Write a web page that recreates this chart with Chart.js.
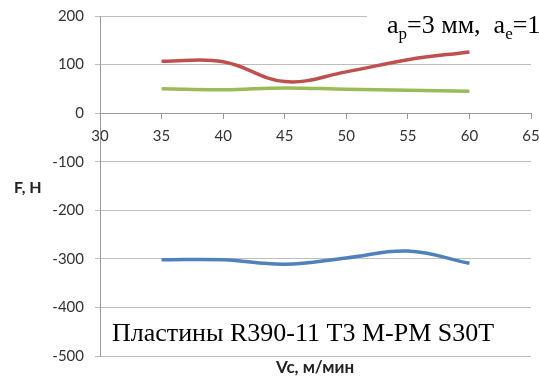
<!DOCTYPE html>
<html>
<head>
<meta charset="utf-8">
<script src="https://cdn.jsdelivr.net/npm/chart.js@4"></script>
<style>
  html, body { margin: 0; padding: 0; background: #fff; }
  #wrap { width: 539px; height: 381px; }
</style>
</head>
<body>
<div id="wrap"><canvas id="forceChart" width="539" height="381"></canvas></div>
<script>
// cutting speed, m/min
const vc = [35, 40, 45, 50, 55, 60];
// force components, N
const forceRed = [107, 106, 65, 85, 110, 126];
const forceGreen = [50, 48, 52, 49, 47, 45];
const forceBlue = [-302, -302, -311, -298, -284, -309];

const xMin = 30, xMax = 65, xStep = 5;
const yMin = -500, yMax = 200, yStep = 100;

const yTitle = 'F, H';
const xTitle = 'Vc, м/мин';
const plateNote = 'Пластины R390-11 T3 M-PM S30T';

const toPoints = vals => vals.map((v, i) => ({x: vc[i], y: v}));

const tickFont = {family: 'Lato, "Open Sans", sans-serif', size: 15};

function drawSub(c, x, y, parts) {
    // parts: [text, isSub]
    parts.forEach(([t, sub]) => {
        c.font = sub ? '17px "Liberation Serif", serif' : '26px "Liberation Serif", serif';
        c.fillText(t, x, sub ? y + 6 : y);
        x += c.measureText(t).width;
    });
}

const notes = {
    id: 'notes',
    afterDatasetsDraw(chart) {
        const c = chart.ctx;
        c.save();
        // white box behind the header text
        c.fillStyle = '#fff';
        c.fillRect(367, 2, 172, 42);
        c.fillStyle = '#000';
        c.textBaseline = 'alphabetic';
        c.textAlign = 'left';
        drawSub(c, 387, 33, [['a', false], ['p', true], ['=3 мм,  a', false], ['e', true], ['=1 мм', false]]);
        c.font = '26px "Liberation Serif", serif';
        c.fillText(plateNote, 112, 341);

        c.font = 'bold 16px Lato, "Open Sans", sans-serif';
        c.fillStyle = '#222';
        c.textBaseline = 'middle';
        c.fillText(yTitle, 14, 188);
        c.font = 'bold 17px Lato, "Open Sans", sans-serif';
        c.textAlign = 'center';
        c.fillText(xTitle, 315, 368);
        c.restore();
    }
};

new Chart(document.getElementById('forceChart').getContext('2d'), {
    type: 'line',
    data: {
        datasets: [
            {data: toPoints(forceRed), borderColor: '#C0504D'},
            {data: toPoints(forceGreen), borderColor: '#9BBB59'},
            {data: toPoints(forceBlue), borderColor: '#4F81BD'}
        ].map(d => Object.assign(d, {
            borderWidth: 3.5,
            pointRadius: 0,
            tension: 0.4,
            fill: false
        }))
    },
    options: {
        responsive: false,
        animation: false,
        layout: {padding: {left: 0, top: 16, right: 8, bottom: 25}},
        plugins: {
            legend: {display: false},
            tooltip: {enabled: false}
        },
        scales: {
            x: {
                type: 'linear',
                position: {y: 0},
                min: xMin,
                max: xMax,
                ticks: {stepSize: xStep, font: tickFont, color: '#333', padding: 9, maxRotation: 0},
                grid: {drawOnChartArea: false, drawTicks: true, tickLength: 5, color: '#999'},
                border: {display: true, color: '#999', width: 1},
                afterFit(scale) { scale.paddingLeft = 0; scale.paddingRight = 0; }
            },
            y: {
                min: yMin,
                max: yMax,
                ticks: {stepSize: yStep, font: tickFont, color: '#333', padding: 11},
                grid: {color: '#bdbdbd', tickLength: 5},
                border: {display: true, color: '#999', width: 1},
                afterFit(scale) { scale.width = 100; scale.paddingTop = 0; scale.paddingBottom = 0; }
            }
        }
    },
    plugins: [notes]
});
</script>
</body>
</html>
